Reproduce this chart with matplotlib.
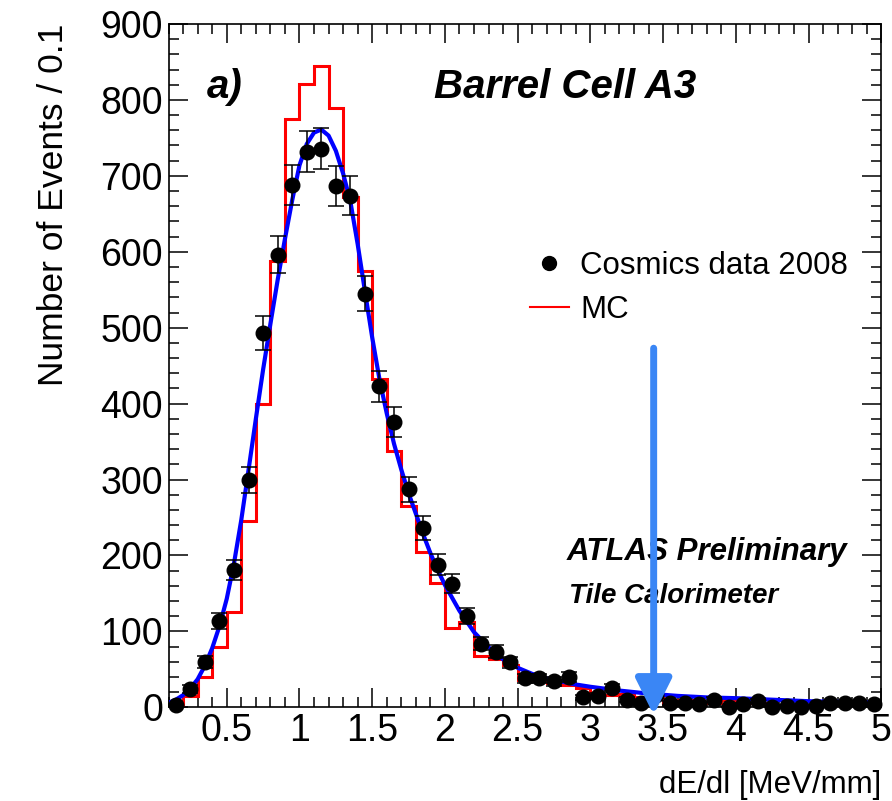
import numpy as np
import matplotlib
matplotlib.use('Agg')
import matplotlib.pyplot as plt
from matplotlib.lines import Line2D
from matplotlib.ticker import MultipleLocator, FormatStrFormatter

plt.rcParams['font.family'] = ['Liberation Sans', 'DejaVu Sans']

# binning: 0.1 wide bins from 0.1 to 5.0
bin_lo, bin_hi, bin_w = 0.1, 5.0, 0.1

# cosmics data 2008 (events per bin)
data_counts = [3, 24, 60, 114, 181, 299, 493, 596, 688, 732,
               736, 687, 674, 545, 423, 376, 287, 236, 188, 163,
               120, 84, 73, 59, 38, 38, 34, 40, 13, 15,
               26, 10, 6, 16, 6, 6, 4, 10, 0, 4,
               8, 0, 2, 0, 2, 6, 6, 6, 4]

# MC histogram (events per bin)
mc_counts = [1, 15, 40, 80, 126, 245, 400, 588, 775, 821,
             845, 789, 672, 575, 433, 338, 265, 204, 164, 104,
             112, 68, 64, 56, 36, 36, 32, 29, 25, 16,
             16, 17, 14, 12, 6, 9, 6, 5, 9, 5,
             5, 3, 3, 3, 2, 3, 2, 2, 2]

# fitted curve
fit_x = [0.10, 0.15, 0.20, 0.25, 0.30, 0.35, 0.40, 0.45, 0.50, 0.55,
         0.60, 0.65, 0.70, 0.75, 0.80, 0.85, 0.90, 0.95, 1.00, 1.05,
         1.10, 1.15, 1.20, 1.25, 1.30, 1.35, 1.40, 1.45, 1.50, 1.55,
         1.60, 1.65, 1.70, 1.75, 1.80, 1.85, 1.90, 1.95, 2.00, 2.10,
         2.20, 2.30, 2.40, 2.50, 2.60, 2.70, 2.80, 2.90, 3.00, 3.20,
         3.40, 3.60, 3.80, 4.00, 4.50, 5.00]
fit_y = [6, 10, 16, 25, 37, 55, 78, 107, 143, 190,
         247, 313, 380, 445, 505, 563, 617, 668, 714, 742,
         757, 761, 753, 733, 703, 666, 610, 548, 487, 432,
         387, 347, 313, 282, 255, 228, 203, 181, 161, 127,
         99, 79, 63, 52, 44, 38, 34, 30, 27, 22,
         18, 15, 13, 12, 8, 6]

# cut marker
cut_x = 3.435
cut_top = 473
cut_tip = -10

edges = np.round(np.arange(bin_lo, bin_hi + bin_w / 2, bin_w), 2)
centers = (edges[:-1] + edges[1:]) / 2
data_counts = np.array(data_counts, dtype=float)
data_err = np.sqrt(data_counts)

fig = plt.figure(figsize=(8.92, 8.01), dpi=100)
ax = fig.add_axes([0.189, 0.117, 0.799, 0.853])

ax.stairs(mc_counts, edges, color='#ff0000', lw=2.2, zorder=2)
ax.plot(fit_x, fit_y, color='#0000ff', lw=3, zorder=3)
ax.errorbar(centers, data_counts, yerr=data_err, fmt='o', color='k',
            ms=10.5, elinewidth=1.1, capsize=5.5, capthick=1.1, zorder=4, clip_on=False)

ax.annotate('', xy=(cut_x, cut_tip), xytext=(cut_x, cut_top),
            arrowprops=dict(arrowstyle='-|>,head_length=1.1,head_width=0.55',
                            color='#3a86f5', lw=5, shrinkA=0, shrinkB=0,
                            mutation_scale=20),
            annotation_clip=False, zorder=6)

ax.set_xlim(bin_lo, bin_hi)
ax.set_ylim(0, 900)
ax.xaxis.set_major_locator(MultipleLocator(0.5))
ax.xaxis.set_minor_locator(MultipleLocator(0.1))
ax.xaxis.set_major_formatter(FormatStrFormatter('%g'))
ax.yaxis.set_major_locator(MultipleLocator(100))
ax.yaxis.set_minor_locator(MultipleLocator(20))
ax.tick_params(which='both', direction='in', top=True, right=True,
               labelsize=27, width=1.1, pad=4)
ax.tick_params(which='major', length=14)
ax.tick_params(which='minor', length=7)
for s in ax.spines.values():
    s.set_linewidth(1.2)

ax.set_ylabel('Number of Events / 0.1', fontsize=25.5, loc='top')
ax.yaxis.set_label_coords(-0.139, 1.0)
ax.set_xlabel('dE/dl [MeV/mm]', fontsize=22.5, loc='right')
ax.xaxis.set_label_coords(1.0, -0.092)

ax.text(0.054, 0.892, 'a)', transform=ax.transAxes, fontsize=29,
        fontweight='bold', fontstyle='italic', va='baseline')
ax.text(0.372, 0.892, 'Barrel Cell A3', transform=ax.transAxes, fontsize=29,
        fontweight='bold', fontstyle='italic', va='baseline')
ax.text(0.559, 0.2157, 'ATLAS Preliminary', transform=ax.transAxes, fontsize=22.5,
        fontweight='bold', fontstyle='italic', va='baseline')
ax.text(0.562, 0.152, 'Tile Calorimeter', transform=ax.transAxes, fontsize=20,
        fontweight='bold', fontstyle='italic', va='baseline')

handles = [Line2D([], [], marker='o', color='k', ls='none', ms=10),
           Line2D([], [], color='#ff0000', lw=1.5)]
ax.legend(handles, ['Cosmics data 2008', 'MC'], loc='upper left',
          bbox_to_anchor=(0.507, 0.668), frameon=False, fontsize=22.5,
          handlelength=1.25, handletextpad=0.35, labelspacing=0.45,
          borderpad=0, borderaxespad=0)

fig.savefig('out.png', dpi=100)
